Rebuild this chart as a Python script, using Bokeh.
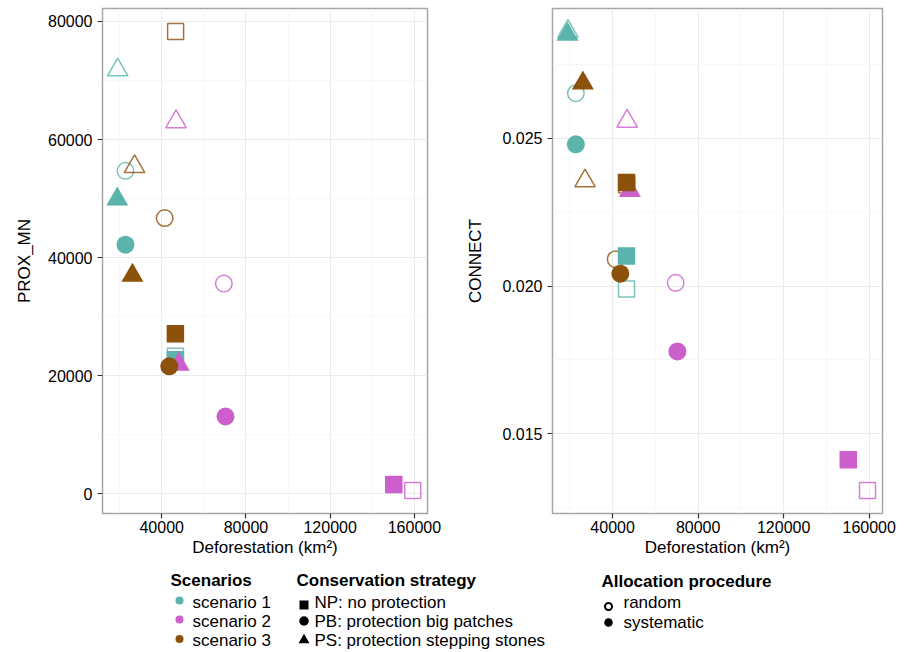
from bokeh.plotting import figure
from bokeh.models import ColumnDataSource, Range1d, FixedTicker, NumeralTickFormatter
from bokeh.layouts import column, row
from bokeh.embed import file_html
from bokeh.resources import INLINE
from bokeh.core.properties import value

FONT = "Liberation Sans"

# ---------------- data ----------------
scenario = ["scenario 1", "scenario 1", "scenario 1",
            "scenario 2", "scenario 2", "scenario 2",
            "scenario 3", "scenario 3", "scenario 3"] * 2
strategy = ["NP", "PB", "PS"] * 6
allocation = ["random"] * 9 + ["systematic"] * 9
deforestation = [46500, 22800, 19100, 159200, 69500, 46800, 46600, 41400, 27100,
                 46500, 22800, 18900, 150200, 70300, 48100, 46500, 43600, 26100]
prox_mn = [23300, 54700, 71800, 560, 35600, 63000, 78300, 46700, 55400,
           22700, 42200, 49900, 1600, 13100, 21900, 27100, 21600, 37000]
connect = [0.01990, 0.02653, 0.02862, 0.01308, 0.02011, 0.02558, 0.02342, 0.02091, 0.02356,
           0.02102, 0.02480, 0.02852, 0.01412, 0.01779, 0.02323, 0.02351, 0.02042, 0.02687]

scenario_labels = ["scenario 1", "scenario 2", "scenario 3"]
scenario_colors = ["#5AB4AC", "#CC5FCC", "#8C510A"]
strategy_codes = ["NP", "PB", "PS"]
strategy_labels = ["NP: no protection", "PB: protection big patches",
                   "PS: protection stepping stones"]
allocation_labels = ["random", "systematic"]

deforestation_ticks = [40000, 80000, 120000, 160000]
deforestation_minor = [20000, 60000, 100000, 140000]
prox_ticks = [0, 20000, 40000, 60000, 80000]
prox_minor = [10000, 30000, 50000, 70000]
connect_ticks = [0.015, 0.020, 0.025]
connect_minor = [0.0125, 0.0175, 0.0225, 0.0275]

marker_of = {"NP": "square", "PB": "circle", "PS": "triangle"}
size_of = {"NP": 17.5, "PB": 18, "PS": 22}


def expand(vals):
    lo, hi = min(vals), max(vals)
    pad = 0.05 * (hi - lo)
    return Range1d(lo - pad, hi + pad)


def panel(yvals, ylabel, yticks, yminor, yfmt, bl, fw, br, als):
    p = figure(frame_width=fw, frame_height=505, min_border_left=bl,
               min_border_right=br, min_border_top=8, min_border_bottom=50,
               x_range=expand(deforestation), y_range=expand(yvals),
               output_backend="svg", toolbar_location=None)
    p.outline_line_color = "#A6A6A6"
    p.outline_line_width = 1.5
    p.background_fill_color = "white"
    p.border_fill_color = "white"
    xt = FixedTicker(ticks=deforestation_ticks, minor_ticks=deforestation_minor)
    yt = FixedTicker(ticks=yticks, minor_ticks=yminor)
    p.xaxis.ticker = xt
    p.xgrid.ticker = xt
    p.yaxis.ticker = yt
    p.ygrid.ticker = yt
    p.xaxis.formatter = NumeralTickFormatter(format="0")
    p.yaxis.formatter = NumeralTickFormatter(format=yfmt)
    p.grid.grid_line_color = "#EBEBEB"
    p.grid.grid_line_width = 1
    p.grid.minor_grid_line_color = "#F5F5F5"
    p.grid.minor_grid_line_width = 0.7
    for ax in (p.xaxis, p.yaxis):
        ax.axis_line_color = None
        ax.major_tick_line_color = "#333333"
        ax.major_tick_line_width = 1.2
        ax.major_tick_out = 5
        ax.major_tick_in = 0
        ax.minor_tick_line_color = None
        ax.major_label_text_font = FONT
        ax.major_label_text_font_size = "16px"
        ax.major_label_text_color = "black"
        ax.axis_label_text_font = FONT
        ax.axis_label_text_font_size = "17px"
        ax.axis_label_text_font_style = "normal"
        ax.axis_label_text_color = "black"
    p.xaxis.axis_label = "Deforestation (km²)"
    p.xaxis.major_label_standoff = 2
    p.xaxis.axis_label_standoff = 2
    p.yaxis.axis_label = ylabel
    p.yaxis.major_label_standoff = 5
    p.yaxis.axis_label_standoff = als

    for alloc in allocation_labels:
        idx = [i for i, a in enumerate(allocation) if a == alloc]
        src = ColumnDataSource(dict(
            x=[deforestation[i] for i in idx],
            y=[yvals[i] for i in idx],
            color=[scenario_colors[scenario_labels.index(scenario[i])] for i in idx],
            marker=[marker_of[strategy[i]] for i in idx],
            size=[size_of[strategy[i]] - (1.5 if alloc == "random" else 0) for i in idx],
        ))
        if alloc == "random":
            p.scatter("x", "y", source=src, marker="marker", size="size",
                      fill_color=None, line_color="color", line_width=1.5,
                      line_alpha=0.8)
        else:
            p.scatter("x", "y", source=src, marker="marker", size="size",
                      fill_color="color", line_color=None)
    return p


left = panel(prox_mn, "PROX_MN", prox_ticks, prox_minor, "0", 102, 325, 21, 11)
right = panel(connect, "CONNECT", connect_ticks, connect_minor, "0.000", 104, 330, 19, 14)

# ---------------- legend ----------------
lg = figure(width=901, height=88, x_range=Range1d(0, 901), y_range=Range1d(651, 563),
            min_border=0, output_backend="svg", toolbar_location=None,
            x_axis_type=None, y_axis_type=None)
lg.outline_line_color = None
lg.xgrid.visible = False
lg.ygrid.visible = False

row_y = [601.5, 620.5, 640]
title_kw = dict(text_font=value(FONT), text_font_size=value("17px"),
                text_font_style="bold", text_baseline="middle", text_align="left",
                text_color="black")
item_kw = dict(text_font=value(FONT), text_font_size=value("17px"),
               text_baseline="middle", text_align="left", text_color="black")

lg.text(x=[170, 296, 601], y=[580, 580, 581],
        text=["Scenarios", "Conservation strategy", "Allocation procedure"], **title_kw)

lg.scatter(x=[179] * 3, y=[y - 1.5 for y in row_y], marker="circle", size=8,
           fill_color=scenario_colors, line_color=None)
lg.text(x=[192] * 3, y=row_y, text=scenario_labels, **item_kw)

lg.scatter(x=[303.5] * 3, y=[604.5, 620.5, 639.5],
           marker=[marker_of[c] for c in strategy_codes], size=[9, 9.5, 11],
           fill_color="black", line_color=None)
lg.text(x=[314] * 3, y=row_y, text=strategy_labels, **item_kw)

lg.scatter(x=[608], y=[606], marker="circle", size=7, fill_color=None,
           line_color="black", line_width=2)
lg.scatter(x=[608], y=[622], marker="circle", size=8.5, fill_color="black",
           line_color=None)
lg.text(x=[623, 623], y=[602, 622], text=allocation_labels, **item_kw)

layout = column(row(left, right), lg)

with open("out.html", "w") as f:
    f.write(file_html(layout, INLINE))
